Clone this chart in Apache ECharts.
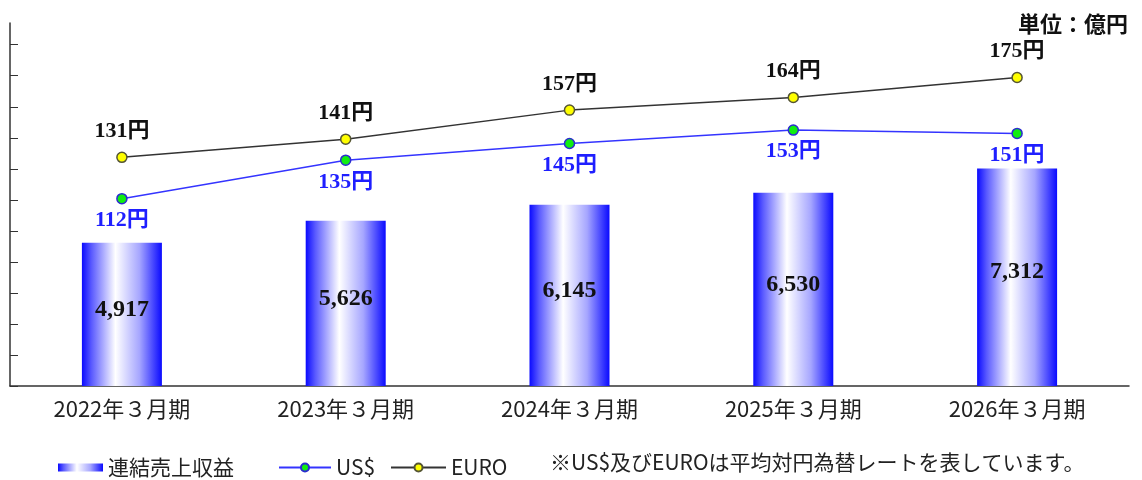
<!DOCTYPE html>
<html>
<head>
<meta charset="utf-8">
<script src="https://cdn.jsdelivr.net/npm/echarts@6/dist/echarts.min.js"></script>
<style>
  html, body { margin: 0; padding: 0; background: #fff; }
  #chart { width: 1142px; height: 480px; }
</style>
</head>
<body>
<div id="chart"></div>
<script>
// ── Data ───────────────────────────────────────────────
const categories   = ['2022年３月期', '2023年３月期', '2024年３月期', '2025年３月期', '2026年３月期'];
const revenue      = [4917, 5626, 6145, 6530, 7312];   // 億円
const usdRate      = [112, 135, 145, 153, 151];        // 円
const euroRate     = [131, 141, 157, 164, 175];        // 円
const revenueTicks = [300, 1300, 2300, 3300, 4300, 5300, 6300, 7300, 8300, 9300, 10300, 11300];

// ── Style ──────────────────────────────────────────────
const JP    = "'Noto Sans CJK JP', 'Noto Sans', sans-serif";
const SERIF = "'Liberation Serif', 'DejaVu Serif', 'Noto Sans CJK JP', serif";
const AXIS  = '#333333';
const BLUE  = '#1f1fff';

const barFill = {
  type: 'linear', x: 0, y: 0, x2: 1, y2: 0,
  colorStops: [
    { offset: 0,    color: '#0a0aff' },
    { offset: 0.12, color: '#5a5aff' },
    { offset: 0.42, color: '#ffffff' },
    { offset: 0.72, color: '#a6a6ff' },
    { offset: 1,    color: '#0a0aff' },
  ],
};

const legendText = { fontFamily: JP, fontSize: 21, color: '#222' };

const chart = echarts.init(document.getElementById('chart'));

chart.setOption({
  backgroundColor: '#ffffff',
  animation: false,

  title: {
    text: '単位：億円',
    right: 9,
    top: 8,
    textStyle: { fontFamily: JP, fontSize: 22, fontWeight: 'bold', color: '#111' },
  },

  grid: { left: 10, right: 13, top: 23, bottom: 94 },

  legend: [
    { data: [{ name: '連結売上収益', icon: 'rect' }], left: 53, top: 452, itemWidth: 45, itemHeight: 8, itemGap: 6,
      textStyle: legendText },
    { data: ['US$'], left: 273, top: 452, itemWidth: 52, itemHeight: 10, itemGap: 4, textStyle: legendText },
    { data: ['EURO'], left: 385, top: 452, itemWidth: 55, itemHeight: 10, itemGap: 4, textStyle: legendText },
  ],

  graphic: [{
    type: 'text',
    left: 550,
    top: 452,
    style: {
      text: '※US$及びEUROは平均対円為替レートを表しています。',
      font: '21px ' + JP,
      fill: '#222',
    },
  }],

  xAxis: {
    type: 'category',
    data: categories,
    axisLine:  { lineStyle: { color: AXIS, width: 1.5 } },
    axisTick:  { inside: true, length: 6, lineStyle: { color: AXIS } },
    axisLabel: { margin: 12, fontFamily: JP, fontSize: 22, color: '#222' },
  },

  yAxis: [
    {
      type: 'value', min: 300, max: 12000,
      axisLine:  { show: true, lineStyle: { color: AXIS, width: 1.5 } },
      axisTick:  { show: true, inside: true, length: 8, customValues: revenueTicks, lineStyle: { color: AXIS } },
      axisLabel: { show: false },
      splitLine: { show: false },
    },
    { type: 'value', min: 0, max: 217, show: false, splitLine: { show: false } },
    { type: 'value', min: 5, max: 205, show: false, splitLine: { show: false } },
  ],

  series: [
    {
      name: '連結売上収益',
      type: 'bar',
      data: revenue,
      barWidth: 80,
      itemStyle: { color: barFill },
      label: {
        show: true,
        position: 'inside',
        offset: [0, -5],
        fontFamily: SERIF,
        fontSize: 24,
        fontWeight: 'bold',
        color: '#111',
        formatter: p => p.value.toLocaleString('en-US'),
      },
      z: 2,
    },
    {
      name: 'US$',
      type: 'line',
      yAxisIndex: 1,
      data: usdRate,
      symbol: 'circle',
      symbolSize: 10,
      lineStyle: { color: '#3434ff', width: 1.5 },
      itemStyle: { color: '#11ee11', borderColor: '#2b2bd0', borderWidth: 1.5 },
      label: {
        show: true,
        position: 'bottom',
        distance: 5,
        fontFamily: SERIF,
        fontSize: 22,
        fontWeight: 'bold',
        color: BLUE,
        formatter: p => p.value + '円',
      },
      z: 4,
    },
    {
      name: 'EURO',
      type: 'line',
      yAxisIndex: 2,
      data: euroRate,
      symbol: 'circle',
      symbolSize: 10,
      lineStyle: { color: '#333333', width: 1.5 },
      itemStyle: { color: '#ffff00', borderColor: '#555533', borderWidth: 1.5 },
      label: {
        show: true,
        position: 'top',
        distance: 9,
        fontFamily: SERIF,
        fontSize: 22,
        fontWeight: 'bold',
        color: '#111',
        formatter: p => p.value + '円',
      },
      z: 3,
    },
  ],
});

window.addEventListener('resize', () => chart.resize());
</script>
</body>
</html>
